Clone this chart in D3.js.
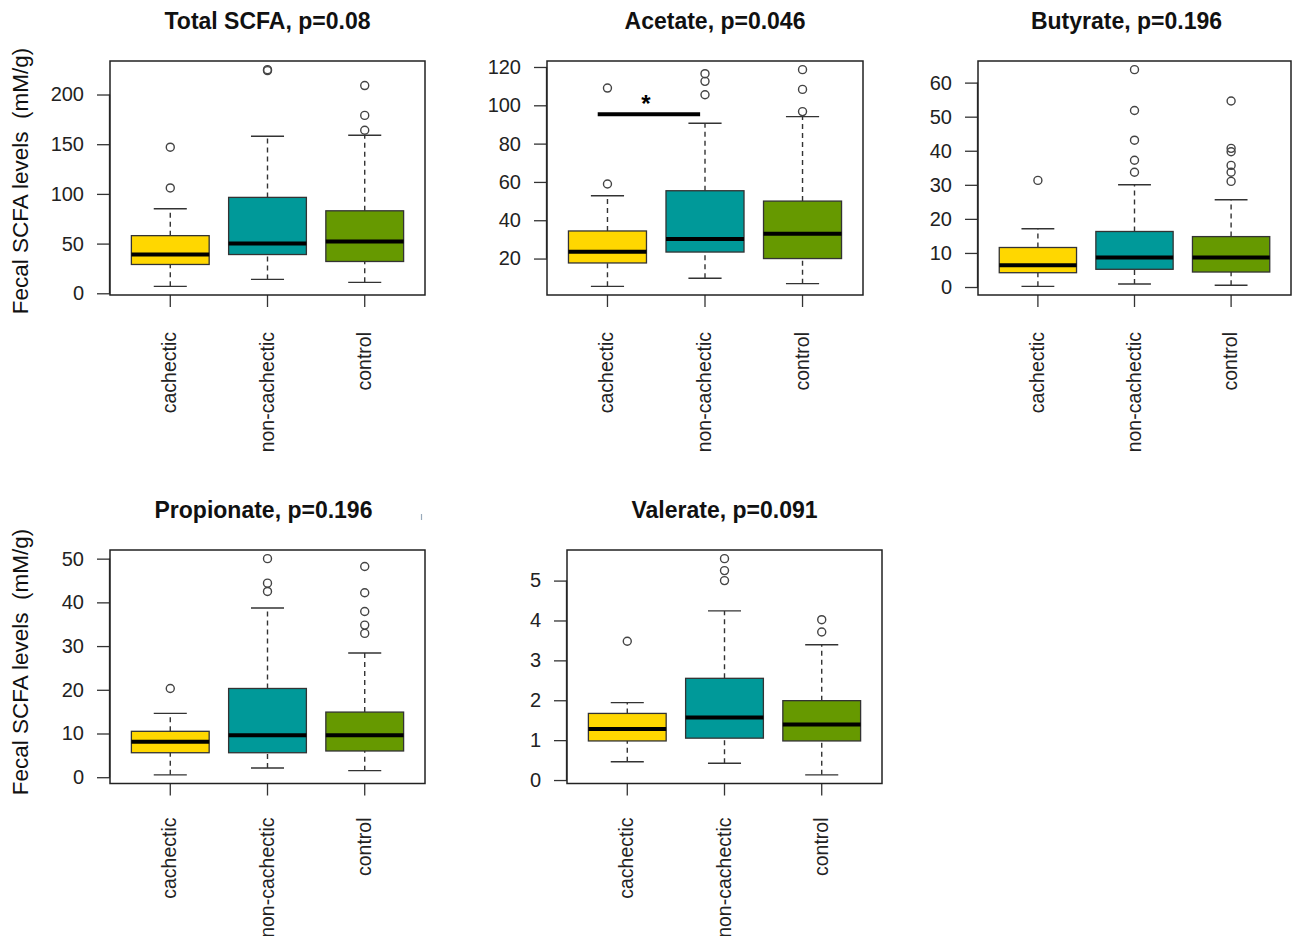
<!DOCTYPE html>
<html>
<head>
<meta charset="utf-8">
<script src="https://cdn.jsdelivr.net/npm/d3@7"></script>
<style>
  body { margin: 0; background: #fff; }
  svg { display: block; font-family: "Liberation Sans", Arial, sans-serif; }
</style>
</head>
<body>
<script>
// groups and colours
var groups = ["cachectic", "non-cachectic", "control"];
var colors = ["#FFD700", "#009999", "#669900"];

var titles = ["Total SCFA, p=0.08", "Acetate, p=0.046", "Butyrate, p=0.196",
              "Propionate, p=0.196", "Valerate, p=0.091"];

// five-number summaries [low whisker, Q1, median, Q3, high whisker] per group
var totalStats    = [[7, 29, 39, 58, 85], [14, 39, 50, 96.5, 158], [11, 32, 52, 83, 159]];
var acetateStats  = [[5.5, 17.7, 23.5, 34.4, 52.8], [9.7, 23.4, 30.2, 55.4, 90.6], [6.9, 20, 33, 50, 94.1]];
var butyrateStats = [[0.2, 4.2, 6.4, 11.6, 17.1], [0.9, 5.2, 8.7, 16.3, 30], [0.5, 4.4, 8.7, 14.8, 25.6]];
var propStats     = [[0.54, 5.6, 8.1, 10.5, 14.6], [2.1, 5.6, 9.6, 20.3, 38.7], [1.5, 6.0, 9.6, 14.9, 28.4]];
var valStats      = [[0.46, 0.98, 1.28, 1.67, 1.94], [0.42, 1.05, 1.57, 2.55, 4.24], [0.13, 0.98, 1.39, 1.99, 3.39]];

// outliers per group
var totalOut    = [[106, 147], [224, 225], [164, 179, 209]];
var acetateOut  = [[58.9, 109], [105.5, 112.5, 116.5], [96.7, 108.3, 118.6]];
var butyrateOut = [[31.3], [33.7, 37.2, 43.1, 51.8, 63.8], [31, 33.7, 35.7, 39.7, 40.7, 54.6]];
var propOut     = [[20.3], [42.5, 44.4, 50], [32.9, 34.8, 37.9, 42.2, 48.2]];
var valOut      = [[3.48], [5.0, 5.25, 5.55], [3.71, 4.02]];

// tick labels
var totalTicks    = [0, 50, 100, 150, 200];
var acetateTicks  = [20, 40, 60, 80, 100, 120];
var butyrateTicks = [0, 10, 20, 30, 40, 50, 60];
var propTicks     = [0, 10, 20, 30, 40, 50];
var valTicks      = [0, 1, 2, 3, 4, 5];

// significance bar on the acetate panel (x in group units, y in data units)
var sigBar = { x1: 0.9, x2: 1.95, y: 95.3, label: "*" };

var yLabel = "Fecal SCFA levels  (mM/g)";

var stats = [totalStats, acetateStats, butyrateStats, propStats, valStats];
var outs = [totalOut, acetateOut, butyrateOut, propOut, valOut];
var ticks = [totalTicks, acetateTicks, butyrateTicks, propTicks, valTicks];

// plot regions on the page
var boxes = [
  { x0: 110, x1: 425, y0: 61, y1: 295, tdx: 0, ldy: 37 },
  { x0: 547, x1: 863, y0: 61, y1: 295, tdx: 10, ldy: 37 },
  { x0: 978, x1: 1291, y0: 61, y1: 295, tdx: -8, ldy: 37 },
  { x0: 110, x1: 425, y0: 550, y1: 783.5, tdx: -4, ldy: 34 },
  { x0: 567, x1: 882, y0: 550, y1: 783.5, tdx: 0, ldy: 34 }
];

var svg = d3.select("body").append("svg")
    .attr("width", 1293)
    .attr("height", 936);

boxes.forEach(function(b, p) {
  var st = stats[p], ot = outs[p];
  var all = d3.merge(st.concat(ot));
  var lo = d3.min(all), hi = d3.max(all), pad = (hi - lo) * 0.04;

  var x = d3.scaleLinear().domain([0.38, 3.62]).range([b.x0, b.x1]);
  var y = d3.scaleLinear().domain([lo - pad, hi + pad]).range([b.y1, b.y0]);
  var bw = x(1.4) - x(1.0);   // half box width
  var cw = x(1.17) - x(1.0);  // half staple width

  var g = svg.append("g").attr("class", "panel");

  // title
  g.append("text")
      .attr("x", (b.x0 + b.x1) / 2 + b.tdx)
      .attr("y", b.y0 - 32)
      .attr("text-anchor", "middle")
      .style("font-size", "23px")
      .style("font-weight", "bold")
      .style("fill", "#111")
      .text(titles[p]);

  // y axis
  var yAxis = g.append("g")
      .attr("transform", "translate(" + b.x0 + ",0)")
      .call(d3.axisLeft(y).tickValues(ticks[p]).tickSize(13).tickPadding(13).tickFormat(d3.format("d")));
  yAxis.select(".domain").remove();
  yAxis.selectAll(".tick line").attr("stroke", "#333").attr("stroke-width", 1.3);
  yAxis.selectAll("text").style("font-size", "20px").style("font-family", "\"Liberation Sans\", Arial, sans-serif").attr("fill", "#222");
  // axis spine from first to last tick
  g.append("line")
      .attr("x1", b.x0 - 0.5).attr("x2", b.x0 - 0.5)
      .attr("y1", y(d3.min(ticks[p]))).attr("y2", y(d3.max(ticks[p])))
      .attr("stroke", "#333").attr("stroke-width", 1.3);

  // x ticks and labels
  groups.forEach(function(name, i) {
    g.append("line")
        .attr("x1", x(i + 1)).attr("x2", x(i + 1))
        .attr("y1", b.y1).attr("y2", b.y1 + 12)
        .attr("stroke", "#333").attr("stroke-width", 1.3);
    g.append("text")
        .attr("transform", "translate(" + (x(i + 1) + 6) + "," + (b.y1 + b.ldy) + ") rotate(-90)")
        .attr("text-anchor", "end")
        .style("font-size", "19.5px")
        .style("fill", "#222")
        .text(name);
  });

  // boxes
  st.forEach(function(s, i) {
    var cx = x(i + 1);
    // dashed whiskers
    g.append("line")
        .attr("x1", cx).attr("x2", cx).attr("y1", y(s[0])).attr("y2", y(s[1]))
        .attr("stroke", "#333").attr("stroke-width", 1.4).attr("stroke-dasharray", "5,4");
    g.append("line")
        .attr("x1", cx).attr("x2", cx).attr("y1", y(s[3])).attr("y2", y(s[4]))
        .attr("stroke", "#333").attr("stroke-width", 1.4).attr("stroke-dasharray", "5,4");
    // staples
    [s[0], s[4]].forEach(function(v) {
      g.append("line")
          .attr("x1", cx - cw).attr("x2", cx + cw).attr("y1", y(v)).attr("y2", y(v))
          .attr("stroke", "#333").attr("stroke-width", 1.4);
    });
    g.append("rect")
        .attr("x", cx - bw).attr("width", 2 * bw)
        .attr("y", y(s[3])).attr("height", y(s[1]) - y(s[3]))
        .attr("fill", colors[i]).attr("stroke", "#333").attr("stroke-width", 1.3);
    g.append("line")
        .attr("x1", cx - bw).attr("x2", cx + bw).attr("y1", y(s[2])).attr("y2", y(s[2]))
        .attr("stroke", "#000").attr("stroke-width", 4);
  });

  // outliers
  ot.forEach(function(vals, i) {
    g.selectAll(null).data(vals).enter().append("circle")
        .attr("cx", x(i + 1)).attr("cy", function(d) { return y(d); })
        .attr("r", 4)
        .attr("fill", "none").attr("stroke", "#444").attr("stroke-width", 1.4);
  });

  // frame
  g.append("rect")
      .attr("x", b.x0).attr("y", b.y0)
      .attr("width", b.x1 - b.x0).attr("height", b.y1 - b.y0)
      .attr("fill", "none").attr("stroke", "#222").attr("stroke-width", 1.5);

  if (p === 1) {
    g.append("line")
        .attr("x1", x(sigBar.x1)).attr("x2", x(sigBar.x2))
        .attr("y1", y(sigBar.y)).attr("y2", y(sigBar.y))
        .attr("stroke", "#000").attr("stroke-width", 4);
    g.append("text")
        .attr("x", x((sigBar.x1 + sigBar.x2) / 2) - 3)
        .attr("y", y(sigBar.y) - 2)
        .attr("text-anchor", "middle")
        .style("font-size", "24px").style("font-weight", "bold")
        .text(sigBar.label);
  }
});

// shared y labels, one per row
[181, 662].forEach(function(cy) {
  svg.append("text")
      .attr("transform", "translate(28," + cy + ") rotate(-90)")
      .attr("text-anchor", "middle")
      .style("font-size", "22.5px")
      .style("white-space", "pre")
      .style("fill", "#111")
      .text(yLabel);
});

// stray mark near the propionate title in the source image
svg.append("line")
    .attr("x1", 421.5).attr("x2", 421.5).attr("y1", 514).attr("y2", 520)
    .attr("stroke", "#9ab").attr("stroke-width", 1.2);
</script>
</body>
</html>
